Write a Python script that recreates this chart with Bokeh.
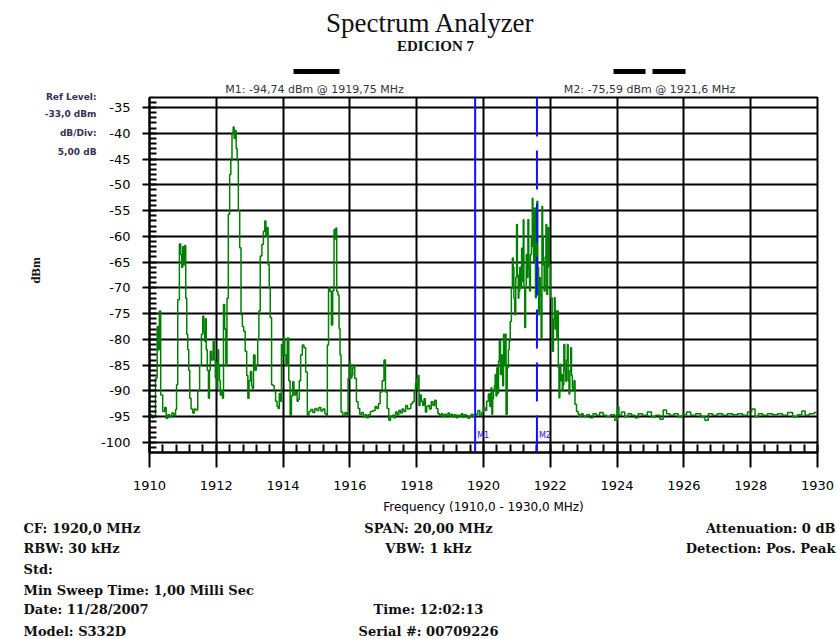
import math
from bokeh.plotting import figure
from bokeh.layouts import row, column
from bokeh.models import (Range1d, SingleIntervalTicker, Span, Label, PrintfTickFormatter)
from bokeh.core.properties import value
from bokeh.embed import file_html
from bokeh.resources import INLINE

# ---------------- data ----------------
freq_mhz = [
    1910.00, 1910.05, 1910.10, 1910.15, 1910.21, 1910.25, 1910.28, 1910.31, 1910.36, 1910.43,
    1910.48, 1910.52, 1910.58, 1910.64, 1910.70, 1910.76, 1910.80, 1910.82, 1910.87, 1910.92,
    1910.95, 1910.98, 1911.01, 1911.04, 1911.07, 1911.10, 1911.13, 1911.16, 1911.19, 1911.22,
    1911.27, 1911.32, 1911.37, 1911.42, 1911.47, 1911.53, 1911.58, 1911.61, 1911.64, 1911.66,
    1911.69, 1911.71, 1911.75, 1911.78, 1911.81, 1911.83, 1911.88, 1911.93, 1911.96, 1911.98,
    1912.01, 1912.03, 1912.06, 1912.08, 1912.11, 1912.13, 1912.17, 1912.20, 1912.23, 1912.27,
    1912.30, 1912.34, 1912.38, 1912.42, 1912.45, 1912.49, 1912.52, 1912.55, 1912.58, 1912.61,
    1912.64, 1912.68, 1912.72, 1912.76, 1912.80, 1912.84, 1912.89, 1912.93, 1912.96, 1913.00,
    1913.04, 1913.07, 1913.09, 1913.14, 1913.18, 1913.22, 1913.26, 1913.29, 1913.34, 1913.39,
    1913.43, 1913.47, 1913.50, 1913.53, 1913.57, 1913.60, 1913.63, 1913.68, 1913.72, 1913.75,
    1913.80, 1913.84, 1913.87, 1913.90, 1913.93, 1913.97, 1914.00, 1914.03, 1914.07, 1914.10,
    1914.15, 1914.19, 1914.23, 1914.27, 1914.30, 1914.35, 1914.40, 1914.44, 1914.47, 1914.50,
    1914.55, 1914.60, 1914.65, 1914.70, 1914.75, 1914.80, 1914.86, 1914.92, 1914.98, 1915.04,
    1915.10, 1915.16, 1915.22, 1915.28, 1915.31, 1915.34, 1915.38, 1915.43, 1915.46, 1915.51,
    1915.54, 1915.57, 1915.59, 1915.62, 1915.66, 1915.69, 1915.72, 1915.75, 1915.82, 1915.88,
    1915.92, 1915.97, 1916.00, 1916.02, 1916.05, 1916.07, 1916.10, 1916.12, 1916.17, 1916.22,
    1916.27, 1916.32, 1916.38, 1916.43, 1916.48, 1916.53, 1916.58, 1916.65, 1916.73, 1916.78,
    1916.83, 1916.88, 1916.93, 1917.00, 1917.04, 1917.09, 1917.14, 1917.19, 1917.24, 1917.29,
    1917.34, 1917.39, 1917.44, 1917.49, 1917.54, 1917.59, 1917.64, 1917.70, 1917.75, 1917.80,
    1917.85, 1917.90, 1917.95, 1917.98, 1918.00, 1918.03, 1918.06, 1918.08, 1918.12, 1918.16,
    1918.20, 1918.24, 1918.28, 1918.32, 1918.36, 1918.41, 1918.46, 1918.51, 1918.56, 1918.61,
    1918.66, 1918.71, 1918.76, 1918.81, 1918.86, 1918.91, 1918.96, 1919.01, 1919.06, 1919.11,
    1919.16, 1919.21, 1919.26, 1919.31, 1919.36, 1919.41, 1919.46, 1919.51, 1919.56, 1919.61,
    1919.66, 1919.71, 1919.75, 1919.80, 1919.86, 1919.92, 1919.97, 1920.02, 1920.07, 1920.12,
    1920.17, 1920.21, 1920.24, 1920.26, 1920.29, 1920.31, 1920.34, 1920.36, 1920.39, 1920.41,
    1920.44, 1920.46, 1920.49, 1920.53, 1920.56, 1920.59, 1920.61, 1920.64, 1920.66, 1920.69,
    1920.73, 1920.76, 1920.78, 1920.82, 1920.85, 1920.88, 1920.90, 1920.92, 1920.95, 1920.98,
    1921.00, 1921.03, 1921.05, 1921.07, 1921.10, 1921.13, 1921.15, 1921.18, 1921.20, 1921.22,
    1921.25, 1921.27, 1921.29, 1921.32, 1921.34, 1921.37, 1921.39, 1921.42, 1921.45, 1921.47,
    1921.49, 1921.51, 1921.54, 1921.57, 1921.59, 1921.61, 1921.64, 1921.66, 1921.69, 1921.71,
    1921.74, 1921.76, 1921.78, 1921.80, 1921.83, 1921.86, 1921.88, 1921.91, 1921.93, 1921.95,
    1921.98, 1922.03, 1922.08, 1922.11, 1922.13, 1922.16, 1922.18, 1922.21, 1922.23, 1922.25,
    1922.27, 1922.30, 1922.33, 1922.35, 1922.37, 1922.39, 1922.42, 1922.45, 1922.47, 1922.50,
    1922.52, 1922.55, 1922.57, 1922.60, 1922.62, 1922.65, 1922.67, 1922.70, 1922.72, 1922.76,
    1922.81, 1922.86, 1922.91, 1922.96, 1923.01, 1923.05, 1923.13, 1923.23, 1923.33, 1923.43,
    1923.53, 1923.63, 1923.73, 1923.88, 1923.98, 1924.03, 1924.08, 1924.18, 1924.28, 1924.38,
    1924.48, 1924.58, 1924.68, 1924.83, 1924.98, 1925.08, 1925.23, 1925.33, 1925.43, 1925.53,
    1925.63, 1925.78, 1925.88, 1926.03, 1926.13, 1926.28, 1926.43, 1926.58, 1926.68, 1926.78,
    1926.93, 1927.08, 1927.23, 1927.38, 1927.53, 1927.68, 1927.83, 1927.98, 1928.08, 1928.18,
    1928.28, 1928.43, 1928.58, 1928.73, 1928.88, 1929.03, 1929.18, 1929.33, 1929.48, 1929.58,
    1929.68, 1929.83, 1929.98,
]

level_dbm = [
    -95.0, -94.6, -95.2, -94.8, -87.5, -77.5, -82.0, -74.5, -90.8, -94.0,
    -93.2, -95.3, -94.6, -95.0, -94.3, -94.8, -93.6, -88.8, -72.3, -61.5,
    -63.5, -66.0, -62.0, -65.5, -61.8, -72.0, -79.0, -82.0, -86.0, -91.4,
    -93.5, -94.3, -93.5, -93.7, -90.0, -85.0, -79.0, -75.5, -78.5, -80.4,
    -76.0, -82.0, -86.0, -91.4, -86.0, -82.3, -84.0, -80.4, -84.0, -87.5,
    -84.5, -89.5, -82.0, -85.0, -88.0, -90.8, -90.0, -91.4, -73.2, -78.0,
    -85.0, -72.0, -55.7, -48.0, -45.3, -40.0, -38.8, -41.0, -39.5, -43.0,
    -45.3, -55.0, -62.2, -75.2, -77.5, -78.4, -82.3, -87.0, -91.4, -88.0,
    -86.2, -89.0, -89.5, -83.0, -86.0, -85.0, -80.0, -74.5, -63.8, -61.6,
    -59.0, -57.0, -60.0, -58.3, -65.5, -70.0, -75.8, -88.8, -89.0, -90.1,
    -92.0, -93.0, -93.4, -90.5, -92.0, -81.0, -83.0, -79.7, -83.0, -85.0,
    -79.7, -88.0, -94.7, -91.0, -88.2, -90.8, -90.1, -92.0, -91.6, -88.0,
    -83.0, -81.1, -81.6, -86.3, -94.7, -94.0, -93.6, -94.2, -93.4, -93.8,
    -93.2, -93.9, -93.5, -94.4, -94.8, -81.1, -70.0, -70.7, -77.2, -70.5,
    -58.7, -60.5, -58.4, -70.7, -71.4, -77.9, -83.0, -94.1, -94.7, -94.2,
    -94.7, -87.6, -84.5, -85.0, -87.5, -87.0, -85.5, -85.0, -87.6, -92.1,
    -93.4, -94.5, -94.2, -95.0, -94.6, -95.2, -94.6, -94.0, -93.8, -93.0,
    -93.4, -92.5, -90.2, -88.0, -84.0, -90.2, -93.4, -95.7, -95.0, -94.7,
    -95.2, -94.1, -94.6, -93.8, -94.3, -93.5, -94.0, -92.8, -93.5, -93.4,
    -92.5, -92.1, -90.2, -88.5, -87.6, -89.5, -87.0, -92.8, -90.8, -92.0,
    -92.8, -91.5, -94.1, -93.0, -92.8, -93.5, -92.1, -92.8, -91.8, -93.4,
    -94.4, -94.8, -94.4, -95.0, -94.5, -94.8, -94.3, -94.9, -94.5, -95.0,
    -94.6, -95.2, -94.7, -94.9, -94.4, -95.1, -94.6, -94.8, -95.3, -94.9,
    -94.5, -95.0, -94.7, -94.5, -93.8, -94.8, -94.2, -93.2, -93.8, -92.0,
    -90.6, -93.0, -89.4, -94.5, -91.5, -90.0, -89.0, -86.8, -91.0, -85.5,
    -90.5, -84.2, -80.3, -86.8, -83.0, -89.0, -79.0, -85.0, -79.0, -94.5,
    -85.5, -82.0, -80.3, -76.5, -70.0, -64.2, -66.0, -72.0, -75.2, -68.0,
    -57.7, -67.5, -72.0, -70.6, -66.0, -70.0, -62.3, -68.7, -56.8, -70.0,
    -77.7, -70.0, -63.5, -68.0, -56.8, -66.0, -70.6, -63.5, -60.0, -52.6,
    -62.0, -64.8, -54.5, -71.9, -62.0, -53.2, -66.0, -75.2, -68.0, -71.3,
    -79.7, -54.2, -60.0, -65.5, -70.6, -64.0, -57.7, -71.3, -66.0, -58.3,
    -65.5, -71.9, -82.3, -76.0, -71.9, -78.0, -74.5, -80.0, -74.5, -85.5,
    -91.3, -84.8, -88.0, -86.8, -90.0, -88.8, -81.0, -86.0, -88.1, -84.0,
    -81.0, -88.0, -90.6, -86.0, -81.6, -87.0, -89.4, -90.0, -88.0, -92.6,
    -94.0, -94.5, -95.0, -94.4, -94.8, -95.0, -94.6, -95.2, -94.4, -94.7,
    -94.2, -94.7, -95.0, -94.6, -95.7, -93.1, -94.7, -94.1, -95.0, -94.4,
    -94.7, -95.2, -94.4, -94.7, -94.1, -95.0, -94.7, -95.5, -93.7, -94.4,
    -94.7, -94.4, -95.0, -94.6, -94.1, -94.7, -94.4, -95.0, -95.7, -94.4,
    -94.7, -94.4, -94.7, -94.4, -94.6, -94.4, -94.7, -94.1, -93.5, -95.0,
    -94.4, -94.7, -94.4, -94.6, -94.4, -94.7, -94.2, -95.0, -94.6, -93.9,
    -94.7, -94.4, -94.2,
]

x_tick_interval = 2      # MHz
y_tick_interval = 5      # dB
marker_freqs = [1919.75, 1921.6]
marker_names = ["M1", "M2"]
marker_texts = ["M1: -94,74 dBm @ 1919,75 MHz", "M2: -75,59 dBm @ 1921,6 MHz"]

title_text = "Spectrum Analyzer"
subtitle_text = "EDICION 7"
ref_texts = ["Ref Level:", "-33,0 dBm", "dB/Div:", "5,00 dB"]
footer_left = ["CF: 1920,0 MHz", "RBW: 30 kHz", "Std:", "Min Sweep Time: 1,00 Milli Sec",
               "Date: 11/28/2007", "Model: S332D"]
footer_center = ["SPAN: 20,00 MHz", "VBW: 1 kHz", "Time: 12:02:13", "Serial #: 00709226"]
footer_center_rows = [0, 1, 4, 5]
footer_right = ["Attenuation: 0 dB", "Detection: Pos. Peak"]

# ---------------- layout (page pixels) ----------------
PAGE_W, PAGE_H = 837, 639
LEFT_W = 97           # column holding the reference-level block and "dBm"
HEAD_H = 95           # strip above the frame: title, marker readouts
MAIN_BOTTOM = 522     # bottom of the chart figure on the page
FR_L, FR_R, FR_T, FR_B = 149, 817, 97, 452      # frame on the page
Y35, Y100 = 107, 442                             # page y of -35 / -100
PX_PER_DB = (Y100 - Y35) / 65.0
PX_PER_MHZ = (FR_R - FR_L) / 20.0
Y_HI = -35 + (Y35 - FR_T) / PX_PER_DB
Y_LO = -100 - (FR_B - Y100) / PX_PER_DB
BORDER_L = FR_L - LEFT_W
BORDER_R = PAGE_W - FR_R


def py2y(py):
    return -35 - (py - Y35) / PX_PER_DB


def blank_fig(x0, x1, y0, y1, width=None, bl=0, br=0):
    f = figure(width=width or (x1 - x0), height=y1 - y0, output_backend="svg",
               toolbar_location=None,
               x_range=Range1d(x0, x1), y_range=Range1d(y1, y0),
               x_axis_location=None, y_axis_location=None,
               min_border=0, min_border_left=bl, min_border_right=br,
               min_border_top=0, min_border_bottom=0,
               background_fill_color="white", border_fill_color="white")
    f.outline_line_color = None
    f.xgrid.visible = False
    f.ygrid.visible = False
    return f


def put_text(f, x, y, txt, font, size, color="#111111", style="normal", align="left", angle=0.0):
    f.text(x=[x], y=[y], text=[txt], text_font=value(font), text_font_size=value(size),
           text_font_style=style, text_color=color, text_align=align,
           text_baseline="middle", angle=angle)


# ---- main chart ----
main_w = PAGE_W - LEFT_W
main_h = MAIN_BOTTOM - HEAD_H
p = figure(width=main_w, height=main_h, output_backend="svg", toolbar_location=None,
           x_range=Range1d(1910, 1930), y_range=Range1d(Y_LO, Y_HI),
           min_border_left=BORDER_L, min_border_right=BORDER_R,
           min_border_top=FR_T - HEAD_H, min_border_bottom=MAIN_BOTTOM - FR_B,
           background_fill_color="white", border_fill_color="white")
p.title.text = ""
p.outline_line_color = "black"
p.outline_line_width = 2

xt = SingleIntervalTicker(interval=x_tick_interval, num_minor_ticks=5)
yt = SingleIntervalTicker(interval=y_tick_interval, num_minor_ticks=5)
p.xaxis.ticker = xt
p.yaxis.ticker = yt
p.xgrid.ticker = xt
p.ygrid.ticker = yt
for g in (p.xgrid, p.ygrid):
    g.grid_line_color = "black"
    g.grid_line_width = 2
    g.grid_line_alpha = 1

ax = p.xaxis[0]
ax.axis_line_color = "black"
ax.axis_line_width = 2
ax.major_tick_out = 15
ax.major_tick_in = 0
ax.major_tick_line_width = 2
ax.minor_tick_in = 8
ax.minor_tick_out = 0
ax.minor_tick_line_width = 2
ax.major_label_standoff = 13
ax.major_label_text_font = "DejaVu Sans"
ax.major_label_text_font_size = "13px"
ax.major_label_text_color = "black"
ax.axis_label = "Frequency (1910,0 - 1930,0 MHz)"
ax.axis_label_text_font = "DejaVu Sans"
ax.axis_label_text_font_size = "12px"
ax.axis_label_text_font_style = "normal"
ax.axis_label_text_color = "black"
ax.axis_label_standoff = 7

ay = p.yaxis[0]
ay.formatter = PrintfTickFormatter(format="%d")
ay.axis_line_color = "black"
ay.axis_line_width = 2
ay.major_tick_out = 7
ay.major_tick_in = 0
ay.major_tick_line_width = 2
ay.minor_tick_in = 7
ay.minor_tick_out = 0
ay.minor_tick_line_width = 2
ay.major_label_standoff = 12
ay.major_label_text_font = "DejaVu Sans"
ay.major_label_text_font_size = "13px"
ay.major_label_text_color = "black"

# trace
p.step(freq_mhz, level_dbm, mode="center", line_color="#008000", line_width=1.5)

# marker lines and their small tags
p.add_layout(Span(location=marker_freqs[0], dimension="height", line_color="#1010ff", line_width=2))
p.add_layout(Span(location=marker_freqs[1], dimension="height", line_color="#1010ff", line_width=2,
                  line_dash="39 14"))
for f, name in zip(marker_freqs, marker_names):
    p.add_layout(Label(x=f + 2 / PX_PER_MHZ, y=py2y(435), text=name, text_font="DejaVu Sans",
                       text_font_size="8px", text_color="#1010ff", text_baseline="middle"))

# ---- header strip (its frame is aligned with the chart frame by the column) ----
head = blank_fig(FR_L, FR_R, 0, HEAD_H, width=main_w, bl=BORDER_L, br=BORDER_R)
put_text(head, 430, 22, title_text, "Liberation Serif", "27px", align="center")
put_text(head, 435, 45, subtitle_text, "Liberation Serif", "15px", style="bold", align="center")
put_text(head, 314, 89, marker_texts[0], "DejaVu Sans", "11px", color="#333344", align="center")
put_text(head, 649, 89, marker_texts[1], "DejaVu Sans", "11px", color="#333344", align="center")
head.quad(left=[293, 613, 652], right=[339, 645, 685], top=[68.5] * 3, bottom=[73.5] * 3,
          fill_color="black", line_color=None)

# ---- left strip ----
left = blank_fig(0, LEFT_W, 0, MAIN_BOTTOM)
for t, yy in zip(ref_texts, [96, 113, 132, 151]):
    put_text(left, 96, yy, t, "DejaVu Sans", "9px", color="#333355", style="bold", align="right")
put_text(left, 35, 270, "dBm", "Liberation Serif", "13px", style="bold", align="center",
         angle=math.pi / 2)

# ---- footer strip ----
foot = blank_fig(0, PAGE_W, MAIN_BOTTOM, PAGE_H)
rows = [528, 548, 569, 590, 609, 631]
FOOT_FONT = "DejaVu Serif"
FOOT_SIZE = "13px"
for t, yy in zip(footer_left, rows):
    put_text(foot, 23, yy, t, FOOT_FONT, FOOT_SIZE, style="bold")
for t, ri in zip(footer_center, footer_center_rows):
    put_text(foot, 428, rows[ri], t, FOOT_FONT, FOOT_SIZE, style="bold", align="center")
for t, yy in zip(footer_right, rows[:2]):
    put_text(foot, 835, yy, t, FOOT_FONT, FOOT_SIZE, style="bold", align="right")

layout = column(row(left, column(head, p, spacing=0), spacing=0), foot, spacing=0)

open("out.html", "w").write(file_html(layout, INLINE))
